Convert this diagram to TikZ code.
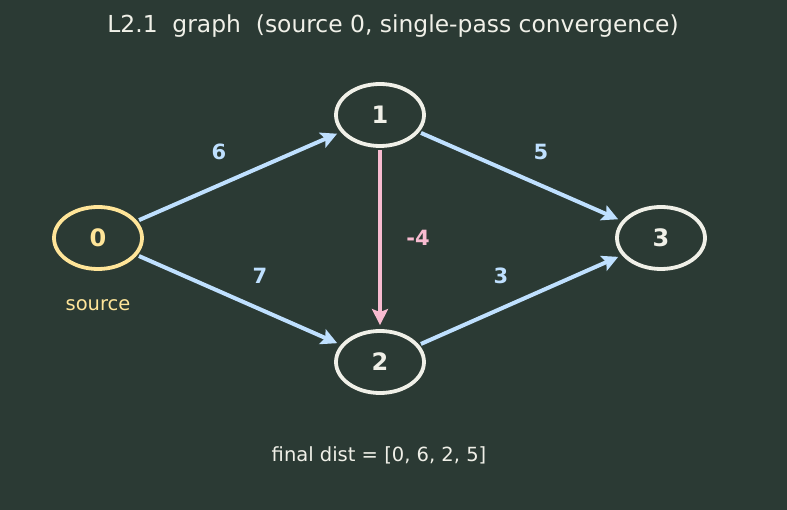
\documentclass[tikz,border=0pt]{standalone}
\usepackage{fontspec}
\setmainfont{DejaVu Sans}
\usetikzlibrary{shapes.geometric,arrows.meta}
\definecolor{bg}{HTML}{2B3A34}
\definecolor{fg}{HTML}{F0F0E8}
\definecolor{ylw}{HTML}{FFE599}
\definecolor{blu}{HTML}{BFE0FF}
\definecolor{pnk}{HTML}{F8BBD0}
\begin{document}
\begin{tikzpicture}[x=1pt,y=-1pt,
  vert/.style={ellipse,draw=fg,line width=3.8pt,minimum width=88pt,minimum height=62pt,inner sep=0pt,text=fg,font=\fontsize{24}{26}\selectfont\bfseries},
  srcvert/.style={vert,draw=ylw,text=ylw},
  edge/.style={draw=blu,line width=4pt,-{Stealth[length=16pt,width=16pt,inset=3pt]},shorten <=2pt,shorten >=4pt},
  negedge/.style={edge,draw=pnk},
  wlbl/.style={text=blu,font=\fontsize{21}{24}\selectfont\bfseries},
  nlbl/.style={text=pnk,font=\fontsize{21}{24}\selectfont\bfseries}]
\fill[bg] (0,0) rectangle (787,510);
\useasboundingbox (0,0) rectangle (787,510);
\node[text=fg,font=\fontsize{23.4}{26}\selectfont] (title) at (393,26) {L2.1\ \ graph\ \ (source 0, single-pass convergence)};
\node[srcvert] (n0) at (98,238) {0};
\node[vert] (n1) at (380,115) {1};
\node[vert] (n2) at (380,362) {2};
\node[vert] (n3) at (661,238) {3};
\node[text=ylw,font=\fontsize{19.5}{22}\selectfont] (src) at (98,305) {source};
\draw[edge] (n0) -- (n1);
\draw[edge] (n0) -- (n2);
\draw[edge] (n1) -- (n3);
\draw[edge] (n2) -- (n3);
\draw[negedge] (n1) -- (n2);
\node[wlbl] (l6) at (219,152) {6};
\node[wlbl] (l7) at (260,276) {7};
\node[wlbl] (l5) at (541,152) {5};
\node[wlbl] (l3) at (501,276) {3};
\node[nlbl] (lm4) at (418,238) {-4};
\node[text=fg,font=\fontsize{19.5}{22}\selectfont] (fd) at (379,455) {final dist = [0, 6, 2, 5]};
\end{tikzpicture}
\end{document}
